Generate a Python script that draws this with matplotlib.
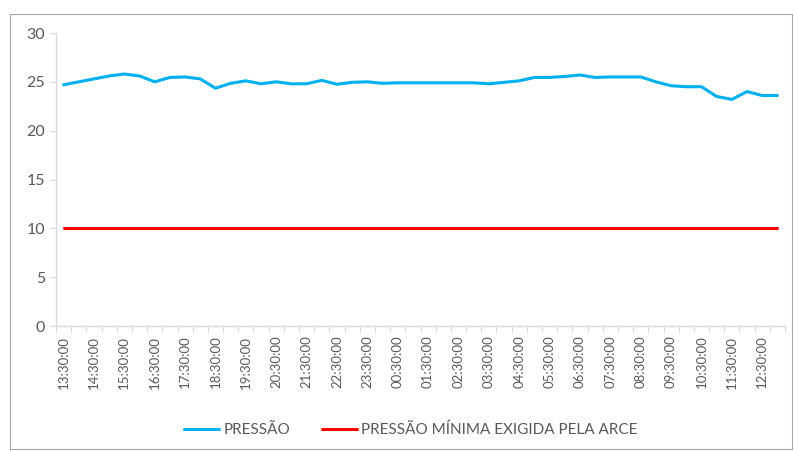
import matplotlib
matplotlib.use("Agg")
import matplotlib.pyplot as plt
from matplotlib.patches import Rectangle
import numpy as np

# Data
times = ["13:30:00", "14:00:00", "14:30:00", "15:00:00", "15:30:00", "16:00:00",
         "16:30:00", "17:00:00", "17:30:00", "18:00:00", "18:30:00", "19:00:00",
         "19:30:00", "20:00:00", "20:30:00", "21:00:00", "21:30:00", "22:00:00",
         "22:30:00", "23:00:00", "23:30:00", "00:00:00", "00:30:00", "01:00:00",
         "01:30:00", "02:00:00", "02:30:00", "03:00:00", "03:30:00", "04:00:00",
         "04:30:00", "05:00:00", "05:30:00", "06:00:00", "06:30:00", "07:00:00",
         "07:30:00", "08:00:00", "08:30:00", "09:00:00", "09:30:00", "10:00:00",
         "10:30:00", "11:00:00", "11:30:00", "12:00:00", "12:30:00", "13:00:00"]
pressao = [24.7, 25.0, 25.3, 25.6, 25.8, 25.6, 25.0, 25.45, 25.5, 25.3,
           24.35, 24.85, 25.1, 24.8, 25.0, 24.8, 24.8, 25.15, 24.75, 24.95,
           25.0, 24.85, 24.9, 24.9, 24.9, 24.9, 24.9, 24.9, 24.8, 24.95,
           25.1, 25.45, 25.45, 25.55, 25.7, 25.45, 25.5, 25.5, 25.5, 25.0,
           24.6, 24.5, 24.5, 23.5, 23.2, 24.0, 23.6, 23.6]
pressao_minima = [10] * len(times)

plt.rcParams['font.family'] = ['Lato', 'DejaVu Sans']
txt_color = '#595959'
axis_color = '#d9d9d9'

W, H = 794, 451
fig = plt.figure(figsize=(W / 100, H / 100), dpi=100)

# outer frame
fig.patches.append(Rectangle((10 / W, 2 / H), (792 - 10) / W, (H - 14 - 2) / H,
                             transform=fig.transFigure, fill=False,
                             edgecolor='#a6a6a6', linewidth=0.8))

ax = fig.add_axes([56 / W, (H - 326) / H, (785 - 56) / W, (326 - 33) / H])
x = np.arange(len(times))
l1, = ax.plot(x, pressao, color='#00B0F0', linewidth=2.2, label='PRESSÃO',
              solid_capstyle='round')
l2, = ax.plot(x, pressao_minima, color='#FF0000', linewidth=2.2,
              label='PRESSÃO MÍNIMA EXIGIDA PELA ARCE', solid_capstyle='round')

ax.set_xlim(-0.5, len(times) - 0.5)
ax.set_ylim(0, 30)
ax.set_yticks(range(0, 31, 5))
ax.tick_params(axis='y', length=4, color=axis_color, labelsize=11.5, pad=4,
               labelcolor=txt_color)

# tick marks at category boundaries, labels at every other category
ax.set_xticks(np.arange(-0.5, len(times), 1.0))
ax.set_xticklabels([])
ax.tick_params(axis='x', which='major', length=4, color=axis_color)
ax.set_xticks(x[::2], minor=True)
ax.set_xticklabels(times[::2], minor=True, rotation=90, fontsize=9.5,
                   color=txt_color)
ax.tick_params(axis='x', which='minor', length=0, pad=7)

for s in ['top', 'right']:
    ax.spines[s].set_visible(False)
for s in ['left', 'bottom']:
    ax.spines[s].set_color(axis_color)
    ax.spines[s].set_linewidth(1.0)

leg = fig.legend(handles=[l1, l2], loc='center', bbox_to_anchor=(411 / W, 21 / H),
                 ncol=2, frameon=False, fontsize=11, handlelength=2.3,
                 handletextpad=0.26, columnspacing=2.1)
for t in leg.get_texts():
    t.set_color(txt_color)

fig.savefig('out.png', dpi=100)
